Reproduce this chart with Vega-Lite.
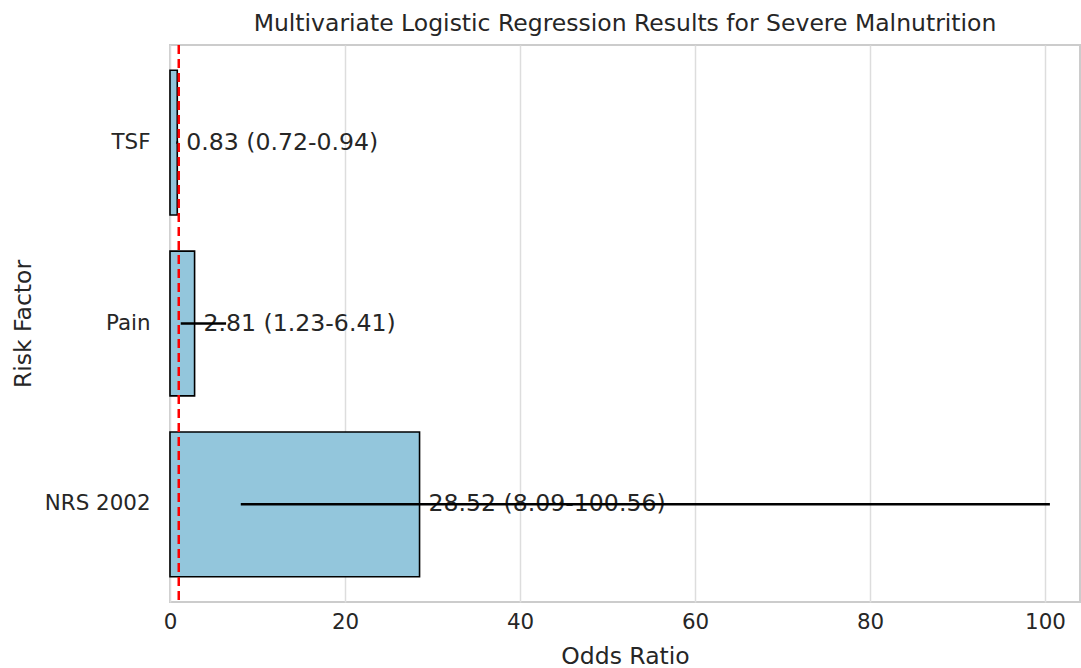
{
  "$schema": "https://vega.github.io/schema/vega-lite/v6.json",
  "width": 910,
  "height": 557,
  "autosize": {"type": "none"},
  "padding": {"left": 170, "top": 45, "right": 1, "bottom": 66},
  "background": "white",
  "config": {
    "font": "DejaVu Sans",
    "view": {"stroke": "#cccccc", "strokeWidth": 2},
    "axis": {"domain": false, "ticks": false, "labelColor": "#262626", "titleColor": "#262626", "labelFont": "DejaVu Sans", "titleFont": "DejaVu Sans", "titleFontWeight": "normal"},
    "title": {"font": "DejaVu Sans", "fontWeight": "normal", "color": "#262626"}
  },
  "title": {"text": "Multivariate Logistic Regression Results for Severe Malnutrition", "fontSize": 23.5, "offset": 8, "anchor": "middle"},
  "data": {
    "values": [
      {"factor": "TSF", "or": 0.83, "lo": 0.72, "hi": 0.94, "label": "0.83 (0.72-0.94)"},
      {"factor": "Pain", "or": 2.81, "lo": 1.23, "hi": 6.41, "label": "2.81 (1.23-6.41)"},
      {"factor": "NRS 2002", "or": 28.52, "lo": 8.09, "hi": 100.56, "label": "28.52 (8.09-100.56)"}
    ]
  },
  "encoding": {
    "y": {
      "field": "factor", "type": "nominal", "sort": ["TSF", "Pain", "NRS 2002"],
      "scale": {"paddingInner": 0.2, "paddingOuter": 0.14},
      "axis": {"title": "Risk Factor", "titleFontSize": 23.5, "labelFontSize": 21.4, "labelPadding": 20, "titlePadding": 9, "grid": false}
    }
  },
  "layer": [
    {
      "mark": {"type": "bar", "fill": "#93C6DC", "stroke": "black", "strokeWidth": 1.6},
      "encoding": {
        "x": {
          "field": "or", "type": "quantitative",
          "scale": {"domain": [0, 104], "nice": false, "zero": true},
          "axis": {"title": "Odds Ratio", "values": [0, 20, 40, 60, 80, 100], "labelFlush": false, "titleFontSize": 23.5, "labelFontSize": 21.4, "labelPadding": 9, "titlePadding": 12, "grid": true, "gridColor": "#dddddd", "gridWidth": 1.5}
        }
      }
    },
    {
      "mark": {"type": "text", "align": "left", "baseline": "middle", "dx": 9, "fontSize": 23.6, "color": "#262626"},
      "encoding": {
        "x": {"field": "or", "type": "quantitative"},
        "text": {"field": "label"}
      }
    },
    {
      "mark": {"type": "rule", "color": "black", "strokeWidth": 2.5},
      "encoding": {
        "x": {"field": "lo", "type": "quantitative"},
        "x2": {"field": "hi"}
      }
    },
    {
      "data": {"values": [{"ref": 1}]},
      "mark": {"type": "rule", "color": "red", "strokeWidth": 2.5, "strokeDash": [9, 5]},
      "encoding": {
        "x": {"field": "ref", "type": "quantitative"},
        "y": null
      }
    }
  ]
}
